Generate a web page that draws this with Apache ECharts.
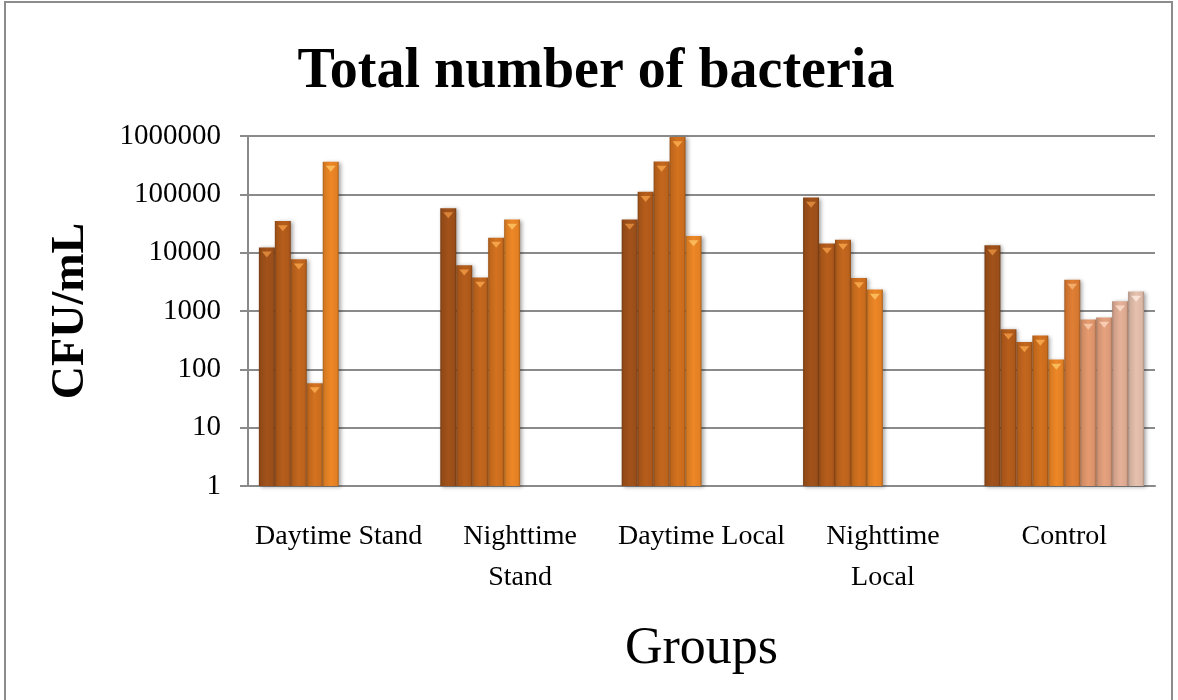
<!DOCTYPE html>
<html>
<head>
<meta charset="utf-8">
<script src="https://cdn.jsdelivr.net/npm/echarts@6/dist/echarts.min.js"></script>
<style>html,body{margin:0;padding:0;background:#fff;}#c{width:1178px;height:700px;}</style>
</head>
<body>
<div id="c"></div>
<script>
var categories = ['Daytime Stand', 'Nighttime\nStand', 'Daytime Local', 'Nighttime\nLocal', 'Control'];
var sample1  = [12300, 58000, 36900, 88000, 13400];
var sample2  = [35000, 6100, 111000, 14300, 486];
var sample3  = [7700, 3740, 365000, 16700, 294];
var sample4  = [58, 18100, 960000, 3680, 379];
var sample5  = [363000, 36900, 19300, 2330, 147];
var sample6  = [null, null, null, null, 3450];
var sample7  = [null, null, null, null, 713];
var sample8  = [null, null, null, null, 771];
var sample9  = [null, null, null, null, 1466];
var sample10 = [null, null, null, null, 2150];
var yTicks = [1, 10, 100, 1000, 10000, 100000, 1000000];

var samples = [sample1, sample2, sample3, sample4, sample5, sample6, sample7, sample8, sample9, sample10];
var baseColors = ['#A2521A', '#B65D1B', '#C4671E', '#D4721F', '#EE8726', '#E07E34', '#E69A6E', '#E6A27F', '#E6B198', '#E6C1AE'];
var tipColors  = ['#E08A3C', '#EC9540', '#F29E45', '#F7A84C', '#FCC060', '#F5B070', '#F7C8A8', '#F8D0B8', '#FADACA', '#FCE6DA'];

function shade(hex, f) {
  var n = parseInt(hex.slice(1), 16);
  var r = (n >> 16) & 255, g = (n >> 8) & 255, b = n & 255;
  r = Math.round(r * f); g = Math.round(g * f); b = Math.round(b * f);
  return 'rgb(' + r + ',' + g + ',' + b + ')';
}
function grad(hex) {
  return new echarts.graphic.LinearGradient(0, 0, 1, 0, [
    {offset: 0, color: shade(hex, 0.72)},
    {offset: 0.12, color: shade(hex, 0.9)},
    {offset: 0.5, color: hex},
    {offset: 0.88, color: shade(hex, 0.95)},
    {offset: 1, color: shade(hex, 0.72)}
  ]);
}

var series = [];
samples.forEach(function (arr, i) {
  series.push({
    type: 'bar',
    name: 'Sample ' + (i + 1),
    data: arr,
    barGap: '0%',
    barCategoryGap: '12%',
    itemStyle: {
      color: grad(baseColors[i]),
      shadowColor: 'rgba(0,0,0,0.35)',
      shadowBlur: 4,
      shadowOffsetX: 2,
      shadowOffsetY: 1
    },
    z: 2
  });
});
samples.forEach(function (arr, i) {
  series.push({
    type: 'pictorialBar',
    name: 'Sample ' + (i + 1) + ' tip',
    data: arr,
    barGap: '0%',
    barCategoryGap: '12%',
    symbol: 'triangle',
    symbolRotate: 180,
    symbolSize: [10, 6],
    symbolPosition: 'end',
    symbolOffset: [0, '70%'],
    itemStyle: {color: tipColors[i], opacity: 0.9},
    z: 3,
    silent: true
  });
});

var chart = echarts.init(document.getElementById('c'), null, {renderer: 'canvas'});
chart.setOption({
  animation: false,
  backgroundColor: '#fff',
  title: {
    text: 'Total number of bacteria',
    left: 591, top: 40, textAlign: 'center',
    textStyle: {fontFamily: 'Liberation Serif', fontWeight: 'bold', fontSize: 56, color: '#000'}
  },
  graphic: [{
    type: 'rect', shape: {x: 5, y: 2, width: 1167, height: 720},
    style: {fill: 'none', stroke: '#8c8c8c', lineWidth: 2}, silent: true
  }],
  grid: {left: 248, right: 23, top: 136, bottom: 214, containLabel: false},
  xAxis: {
    type: 'category',
    data: categories,
    name: 'Groups',
    nameLocation: 'middle',
    nameGap: 137,
    nameTextStyle: {fontFamily: 'Liberation Serif', fontSize: 52, color: '#000'},
    axisLine: {show: true, lineStyle: {color: '#8a8a8a', width: 2}},
    axisTick: {show: false},
    axisLabel: {interval: 0, margin: 30, fontFamily: 'Liberation Serif', fontSize: 28, color: '#000', lineHeight: 41}
  },
  yAxis: {
    type: 'log',
    logBase: 10,
    min: yTicks[0],
    max: yTicks[yTicks.length - 1],
    name: 'CFU/mL',
    nameLocation: 'middle',
    nameGap: 154,
    nameRotate: 90,
    nameTextStyle: {fontFamily: 'Liberation Serif', fontWeight: 'bold', fontSize: 46, color: '#000'},
    axisLine: {show: true, lineStyle: {color: '#8a8a8a', width: 2}},
    axisTick: {show: true, inside: false, length: 8, lineStyle: {color: '#8a8a8a', width: 2}},
    splitLine: {show: true, lineStyle: {color: '#8a8a8a', width: 2}},
    axisLabel: {margin: 27, fontFamily: 'Liberation Serif', fontSize: 29, color: '#000',
      formatter: function (v) { return String(Math.round(v)); }}
  },
  series: series
});
</script>
</body>
</html>
